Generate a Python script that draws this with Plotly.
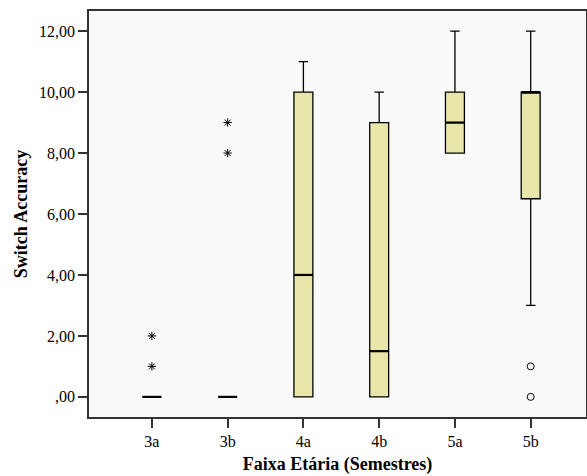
import plotly.graph_objects as go

categories = ["3a", "3b", "4a", "4b", "5a", "5b"]
q1 = [0, 0, 0, 0, 8, 6.5]
median = [0, 0, 4, 1.5, 9, 10]
q3 = [0, 0, 10, 9, 10, 10]
lower_whisker = [0, 0, 0, 0, 8, 3]
upper_whisker = [0, 0, 11, 10, 12, 12]

extreme_cat = ["3a", "3a", "3b", "3b"]
extreme_val = [1, 2, 8, 9]
outlier_cat = ["5b", "5b"]
outlier_val = [0, 1]

y_tickvals = [0, 2, 4, 6, 8, 10, 12]
y_ticktext = [",00", "2,00", "4,00", "6,00", "8,00", "10,00", "12,00"]

BOX_W = 0.25
fig = go.Figure()
fig.add_trace(go.Box(
    x=categories, q1=q1, median=median, q3=q3,
    lowerfence=lower_whisker, upperfence=upper_whisker,
    fillcolor="#E9E6A9", line=dict(color="black", width=1.3),
    width=BOX_W, whiskerwidth=0.5, boxpoints=False, showlegend=False,
    hoverinfo="skip",
))
fig.add_trace(go.Scatter(
    x=extreme_cat, y=extreme_val, mode="markers",
    marker=dict(symbol="asterisk-open", size=7, color="black", line=dict(width=1, color="black")),
    showlegend=False,
))
fig.add_trace(go.Scatter(
    x=outlier_cat, y=outlier_val, mode="markers",
    marker=dict(symbol="circle-open", size=7, color="black", line=dict(width=1, color="black")),
    showlegend=False,
))
# thicker median lines
for i, m in enumerate(median):
    fig.add_shape(type="line", xref="x", yref="y",
                  x0=i - BOX_W / 2, x1=i + BOX_W / 2, y0=m, y1=m,
                  line=dict(color="black", width=2.2))

font = "Liberation Serif, Times New Roman, serif"
fig.update_layout(
    width=587, height=476,
    margin=dict(l=89, r=1, t=11, b=59),
    paper_bgcolor="white", plot_bgcolor="#F9F9F9",
    font=dict(family=font, size=16, color="black"),
)
fig.update_xaxes(
    type="category", categoryorder="array", categoryarray=categories,
    range=[-0.83, 5.73], automargin=False,
    showline=True, linecolor="#333", linewidth=1.5, mirror=True,
    ticks="outside", ticklen=9, tickcolor="#333", tickwidth=1.5,
    showgrid=False, zeroline=False,
    tickfont=dict(family=font, size=16),
    title=dict(text="<b>Faixa Etária (Semestres)</b>", font=dict(family=font, size=18), standoff=8),
)
fig.update_yaxes(
    range=[-0.66, 12.66], automargin=False,
    tickvals=y_tickvals, ticktext=y_ticktext,
    showline=True, linecolor="#333", linewidth=1.5, mirror=True,
    ticks="outside", ticklen=9, tickcolor="#333", tickwidth=1.5,
    showgrid=False, zeroline=False,
    tickfont=dict(family=font, size=16),
    title=dict(text="<b>Switch Accuracy</b>", font=dict(family=font, size=18), standoff=7),
)
fig.write_html("out.html", config={"displayModeBar": False},
               post_script="document.body.style.margin='0';document.body.style.overflow='hidden';")
